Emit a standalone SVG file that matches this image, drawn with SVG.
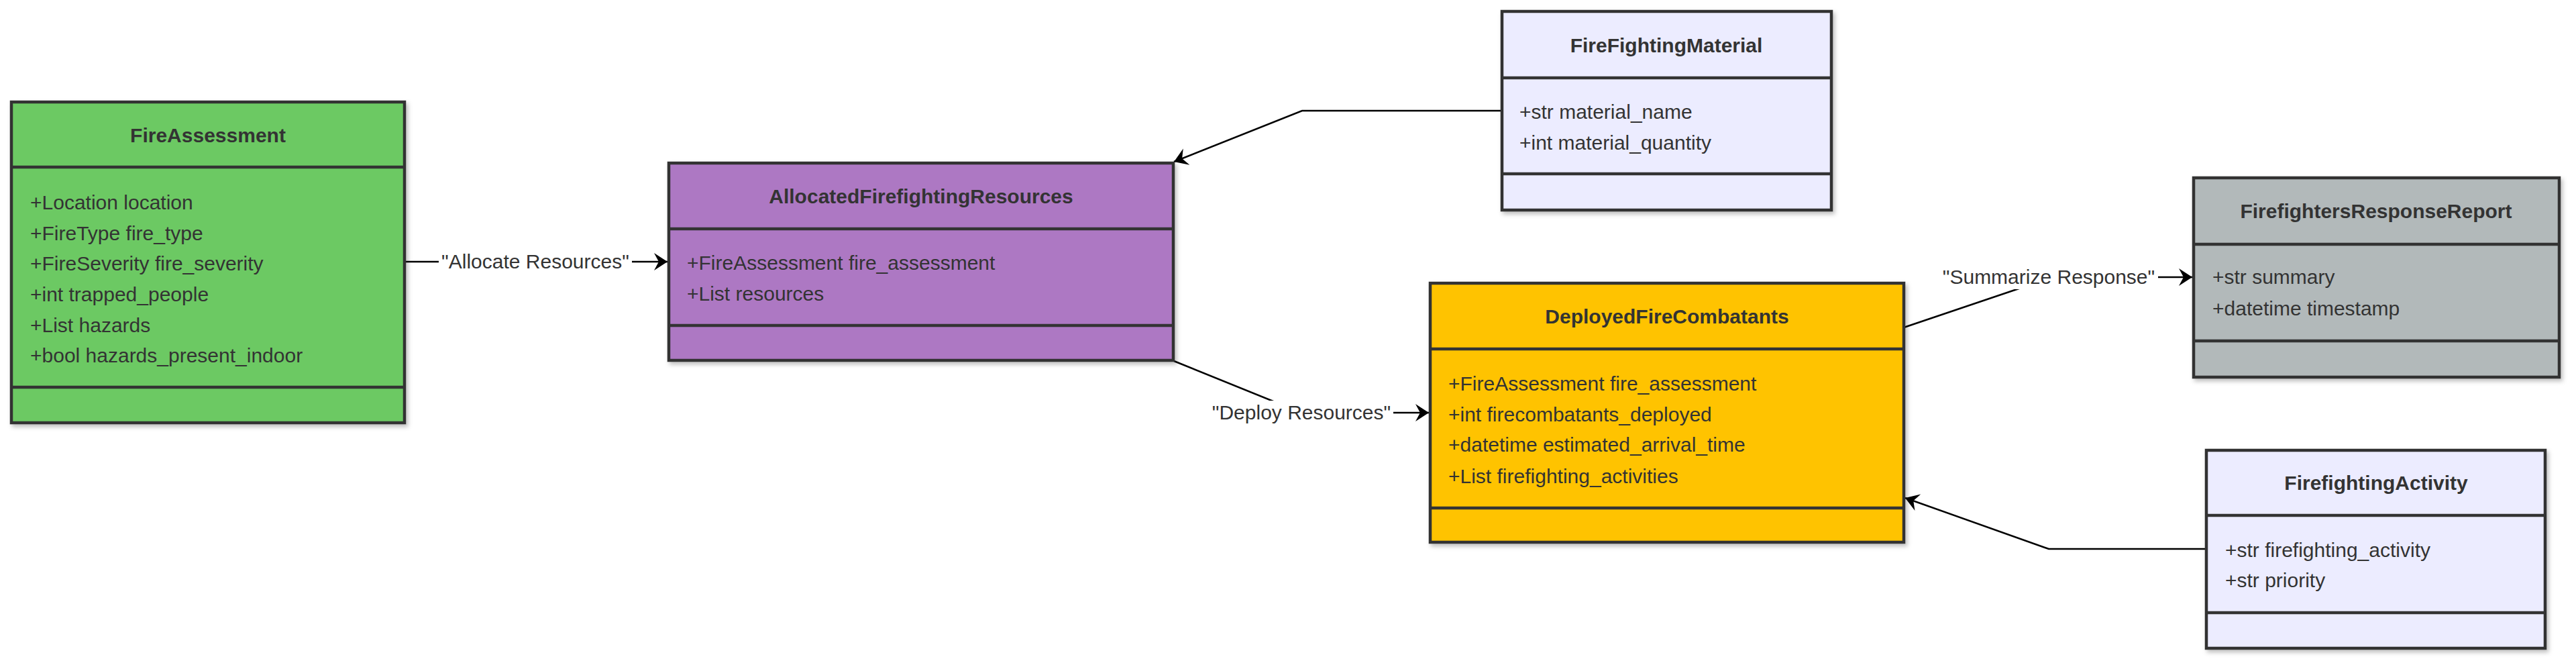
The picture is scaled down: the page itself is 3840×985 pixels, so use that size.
<svg xmlns="http://www.w3.org/2000/svg" width="3840" height="985" viewBox="0 0 3840 985">
  <style>
    .box { stroke: #333333; stroke-width: 4.5; }
    .div { stroke: #333333; stroke-width: 4.5; }
    .title { font-family: "Liberation Sans", Arial, sans-serif; font-size: 30px; font-weight: bold; fill: #333333; text-anchor: middle; }
    .attr { font-family: "Liberation Sans", Arial, sans-serif; font-size: 30px; fill: #333333; }
    .edge { fill: none; stroke: #000000; stroke-width: 2.5; }
    .lbl { font-family: "Liberation Sans", Arial, sans-serif; font-size: 30px; fill: #333333; text-anchor: middle; }
    .lblbg { fill: #ffffff; }
  </style>
  <defs>
    <filter id="shadow" x="-5%" y="-5%" width="115%" height="115%">
      <feDropShadow dx="3" dy="4" stdDeviation="3" flood-color="#000000" flood-opacity="0.25"/>
    </filter>
    <marker id="arrow" viewBox="-22 -14 24 28" refX="0" refY="0" markerWidth="24" markerHeight="28" markerUnits="userSpaceOnUse" orient="auto">
      <path d="M0,0 L-20,-13 L-13,0 L-20,13 Z" fill="#000000"/>
    </marker>
  </defs>
  <rect x="0" y="0" width="3840" height="985" fill="#ffffff"/>

  <g id="connectors">
    <path class="edge" d="M603,390 L995,390" marker-end="url(#arrow)"/>
    <path class="edge" d="M2239,165 L1941,165 L1750,241" marker-end="url(#arrow)"/>
    <path class="edge" d="M1750,538 L1940,615 L2130,615" marker-end="url(#arrow)"/>
    <path class="edge" d="M2838,488 L3060,413 L3268,413" marker-end="url(#arrow)"/>
    <path class="edge" d="M3289,818 L3054,818 L2840,742" marker-end="url(#arrow)"/>
    <g id="label-allocate">
      <rect class="lblbg" x="654" y="372" width="288" height="36"/>
      <text class="lbl" x="798" y="400">"Allocate Resources"</text>
    </g>
    <g id="label-deploy">
      <rect class="lblbg" x="1803" y="597" width="274" height="36"/>
      <text class="lbl" x="1940" y="625">"Deploy Resources"</text>
    </g>
    <g id="label-summarize">
      <rect class="lblbg" x="2891" y="395" width="326" height="36"/>
      <text class="lbl" x="3054" y="423">"Summarize Response"</text>
    </g>
  </g>

  <g id="FireAssessment">
    <rect class="box" x="17" y="152" width="586" height="478" fill="#6cc964" filter="url(#shadow)"/>
    <line class="div" x1="17" y1="249" x2="603" y2="249"/>
    <line class="div" x1="17" y1="577" x2="603" y2="577"/>
    <text class="title" x="310" y="212">FireAssessment</text>
    <text class="attr" x="45" y="312">+Location location</text>
    <text class="attr" x="45" y="358">+FireType fire_type</text>
    <text class="attr" x="45" y="403">+FireSeverity fire_severity</text>
    <text class="attr" x="45" y="449">+int trapped_people</text>
    <text class="attr" x="45" y="495">+List hazards</text>
    <text class="attr" x="45" y="540">+bool hazards_present_indoor</text>
  </g>

  <g id="AllocatedFirefightingResources">
    <rect class="box" x="997" y="243" width="752" height="294" fill="#ad78c3" filter="url(#shadow)"/>
    <line class="div" x1="997" y1="341" x2="1749" y2="341"/>
    <line class="div" x1="997" y1="485" x2="1749" y2="485"/>
    <text class="title" x="1373" y="303">AllocatedFirefightingResources</text>
    <text class="attr" x="1024" y="402">+FireAssessment fire_assessment</text>
    <text class="attr" x="1024" y="448">+List resources</text>
  </g>

  <g id="FireFightingMaterial">
    <rect class="box" x="2239" y="17" width="491" height="296" fill="#ececff" filter="url(#shadow)"/>
    <line class="div" x1="2239" y1="116" x2="2730" y2="116"/>
    <line class="div" x1="2239" y1="259" x2="2730" y2="259"/>
    <text class="title" x="2484" y="78">FireFightingMaterial</text>
    <text class="attr" x="2265" y="177">+str material_name</text>
    <text class="attr" x="2265" y="223">+int material_quantity</text>
  </g>

  <g id="DeployedFireCombatants">
    <rect class="box" x="2132" y="422" width="706" height="386" fill="#ffc300" filter="url(#shadow)"/>
    <line class="div" x1="2132" y1="520" x2="2838" y2="520"/>
    <line class="div" x1="2132" y1="757" x2="2838" y2="757"/>
    <text class="title" x="2485" y="482">DeployedFireCombatants</text>
    <text class="attr" x="2159" y="582">+FireAssessment fire_assessment</text>
    <text class="attr" x="2159" y="628">+int firecombatants_deployed</text>
    <text class="attr" x="2159" y="673">+datetime estimated_arrival_time</text>
    <text class="attr" x="2159" y="720">+List firefighting_activities</text>
  </g>

  <g id="FirefightersResponseReport">
    <rect class="box" x="3270" y="265" width="545" height="297" fill="#b2b9ba" filter="url(#shadow)"/>
    <line class="div" x1="3270" y1="364" x2="3815" y2="364"/>
    <line class="div" x1="3270" y1="508" x2="3815" y2="508"/>
    <text class="title" x="3542" y="325">FirefightersResponseReport</text>
    <text class="attr" x="3298" y="423">+str summary</text>
    <text class="attr" x="3298" y="470">+datetime timestamp</text>
  </g>

  <g id="FirefightingActivity">
    <rect class="box" x="3289" y="671" width="505" height="295" fill="#ececff" filter="url(#shadow)"/>
    <line class="div" x1="3289" y1="768" x2="3794" y2="768"/>
    <line class="div" x1="3289" y1="913" x2="3794" y2="913"/>
    <text class="title" x="3542" y="730">FirefightingActivity</text>
    <text class="attr" x="3317" y="830">+str firefighting_activity</text>
    <text class="attr" x="3317" y="875">+str priority</text>
  </g>
</svg>
